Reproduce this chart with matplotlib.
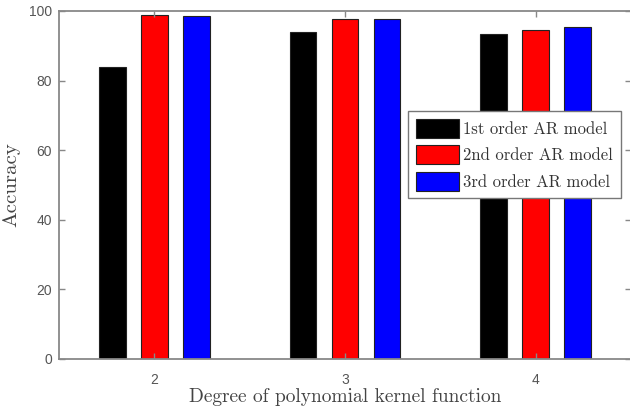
import matplotlib
matplotlib.use("Agg")
import matplotlib.pyplot as plt
import numpy as np

degrees = [2, 3, 4]
series_names = ["1st order AR model", "2nd order AR model", "3rd order AR model"]
acc_1st = [83.9, 94.1, 93.5]
acc_2nd = [98.8, 97.6, 94.5]
acc_3rd = [98.6, 97.6, 95.3]
colors = ["#000000", "#ff0000", "#0000ff"]

fig = plt.figure(figsize=(6.3, 4.12), dpi=100)
W, H = 630, 412
L, R, T, B = 59, 631, 11, 359
ax = fig.add_axes([L / W, 1 - B / H, (R - L) / W, (B - T) / H])

x = np.array(degrees, dtype=float)
width = 0.14
offs = [-0.22, 0.0, 0.22]
for vals, c, name, o in zip([acc_1st, acc_2nd, acc_3rd], colors, series_names, offs):
    ax.bar(x + o, vals, width, color=c, edgecolor="#222222", linewidth=0.8, label=name)

ax.set_xlim(1.5, 4.5)
ax.set_ylim(0, 100)
ax.set_xticks(degrees)
ax.set_yticks([0, 20, 40, 60, 80, 100])
gray = "#555555"
for s in ax.spines.values():
    s.set_color("#888888")
    s.set_linewidth(1.3)
ax.tick_params(direction="in", length=4, width=1, colors="#888888",
               labelcolor=gray, labelsize=10, top=True, right=True)
for lab in ax.get_xticklabels() + ax.get_yticklabels():
    lab.set_family(["Liberation Sans", "DejaVu Sans"])
ax.tick_params(axis="x", pad=10)
ax.tick_params(axis="y", pad=5)

ax.set_xlabel("Degree of polynomial kernel function", fontfamily="cmr10",
              fontsize=14, color="#444444", labelpad=1)
ax.set_ylabel("Accuracy", fontfamily="cmr10", fontsize=15, color="#444444", labelpad=6)

leg = ax.legend(loc="upper left", bbox_to_anchor=((408 - L) / (R - L), 1 - (111 - T) / (B - T)),
                prop={"family": "cmr10", "size": 12}, fancybox=False,
                edgecolor="#777777", framealpha=1, handlelength=2.6, handleheight=1.35,
                handletextpad=0.25, labelspacing=0.47, borderpad=0.47, borderaxespad=0)
for t in leg.get_texts():
    t.set_color("#333333")
leg.get_frame().set_linewidth(1.0)

fig.savefig("out.png", dpi=100)
